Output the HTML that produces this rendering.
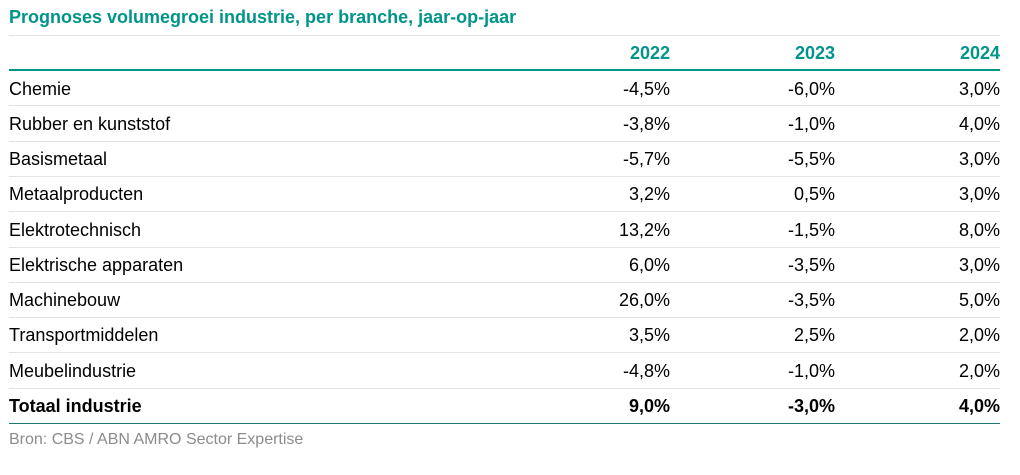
<!DOCTYPE html>
<html><head><style>
body{margin:0;width:1020px;height:475px;background:#fff;font-family:"Liberation Sans",sans-serif;position:relative;overflow:hidden}
.t{position:absolute;left:9px;top:7px;font-size:18px;font-weight:bold;color:#00958a}
.l{position:absolute;left:9px;width:991px;height:1px;background:#e3e3e3}
.g{background:#00958a;height:2px}
.r{position:absolute;left:9px;width:991px;height:35px;line-height:37px;font-size:18px;color:#000}
.r span{position:absolute;top:0;text-align:right}
.a{right:330px}.b{right:165px}.c{right:0}
.h{color:#00958a;font-weight:bold}
.s{position:absolute;left:9px;top:431px;font-size:16px;color:#8c8c8c}
</style></head><body>
<div class="t">Prognoses volumegroei industrie, per branche, jaar-op-jaar</div>
<div class="l" style="top:35px"></div>
<div class="r h" style="top:35px"><span class="a">2022</span><span class="b">2023</span><span class="c">2024</span></div>
<div class="l g" style="top:69px"></div>
<div class="r" style="top:71px">Chemie<span class="a">-4,5%</span><span class="b">-6,0%</span><span class="c">3,0%</span></div>
<div class="l" style="top:105px"></div>
<div class="r" style="top:106px">Rubber en kunststof<span class="a">-3,8%</span><span class="b">-1,0%</span><span class="c">4,0%</span></div>
<div class="l" style="top:141px"></div>
<div class="r" style="top:141px">Basismetaal<span class="a">-5,7%</span><span class="b">-5,5%</span><span class="c">3,0%</span></div>
<div class="l" style="top:176px"></div>
<div class="r" style="top:176px">Metaalproducten<span class="a">3,2%</span><span class="b">0,5%</span><span class="c">3,0%</span></div>
<div class="l" style="top:211px"></div>
<div class="r" style="top:212px">Elektrotechnisch<span class="a">13,2%</span><span class="b">-1,5%</span><span class="c">8,0%</span></div>
<div class="l" style="top:247px"></div>
<div class="r" style="top:247px">Elektrische apparaten<span class="a">6,0%</span><span class="b">-3,5%</span><span class="c">3,0%</span></div>
<div class="l" style="top:282px"></div>
<div class="r" style="top:282px">Machinebouw<span class="a">26,0%</span><span class="b">-3,5%</span><span class="c">5,0%</span></div>
<div class="l" style="top:317px"></div>
<div class="r" style="top:317px">Transportmiddelen<span class="a">3,5%</span><span class="b">2,5%</span><span class="c">2,0%</span></div>
<div class="l" style="top:352px"></div>
<div class="r" style="top:353px">Meubelindustrie<span class="a">-4,8%</span><span class="b">-1,0%</span><span class="c">2,0%</span></div>
<div class="l" style="top:388px"></div>
<div class="r" style="top:388px;font-weight:bold">Totaal industrie<span class="a">9,0%</span><span class="b">-3,0%</span><span class="c">4,0%</span></div>
<div class="l" style="top:423px;background:#1a7a6e"></div>
<div class="s">Bron: CBS / ABN AMRO Sector Expertise</div>
</body></html>
